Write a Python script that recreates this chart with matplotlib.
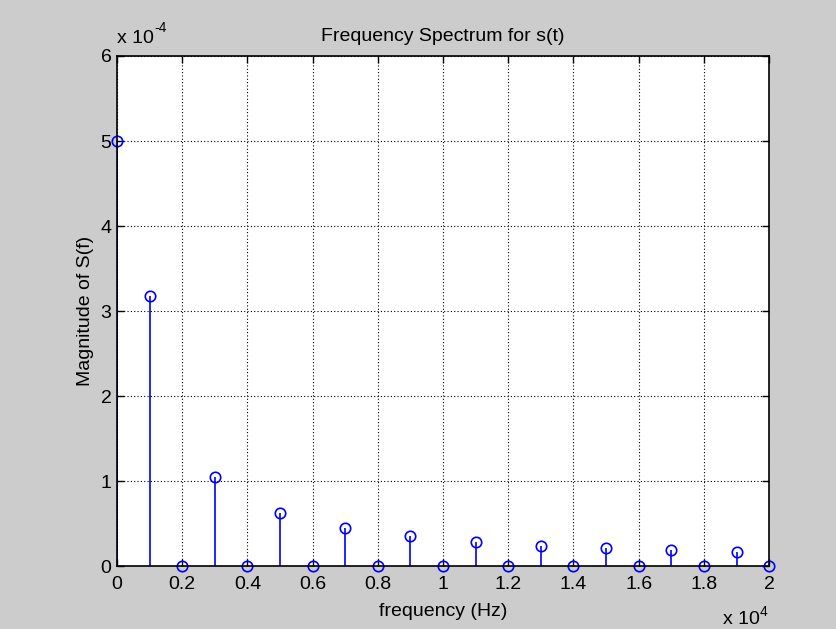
import numpy as np
import matplotlib
matplotlib.use("Agg")
import matplotlib.pyplot as plt
from matplotlib.ticker import FuncFormatter, MultipleLocator

# данные спектра (частота в Гц, амплитуда)
freq = [0, 1000, 2000, 3000, 4000, 5000, 6000, 7000, 8000, 9000, 10000,
        11000, 12000, 13000, 14000, 15000, 16000, 17000, 18000, 19000, 20000]
mag = [5.0e-4, 3.18e-4, 0, 1.05e-4, 0, 0.63e-4, 0, 0.45e-4, 0, 0.35e-4, 0,
       0.28e-4, 0, 0.24e-4, 0, 0.21e-4, 0, 0.19e-4, 0, 0.17e-4, 0]

GRAY = "#cccccc"
plt.rcParams['font.family'] = ['Liberation Sans', 'DejaVu Sans']

fig = plt.figure(figsize=(8.36, 6.29), dpi=100, facecolor=GRAY)
ax = fig.add_axes([0.140, 0.100, 0.780, 0.811])

markerline, stemlines, baseline = ax.stem(freq, mag, linefmt="b-", markerfmt="bo", basefmt="b-")
markerline.set_markerfacecolor("none")
markerline.set_markeredgewidth(1.2)
markerline.set_markersize(7.5)
markerline.set_clip_on(False)
stemlines.set_linewidth(1.2)
baseline.set_visible(False)

ax.set_xlim(0, 20000)
ax.set_ylim(0, 6e-4)
ax.xaxis.set_major_locator(MultipleLocator(2000))
ax.yaxis.set_major_locator(MultipleLocator(1e-4))
ax.xaxis.set_major_formatter(FuncFormatter(lambda v, p: f"{v / 1e4:g}"))
ax.yaxis.set_major_formatter(FuncFormatter(lambda v, p: f"{v / 1e-4:g}"))

ax.grid(True, color="black", linestyle=(0, (1, 2)), linewidth=0.8)
ax.set_axisbelow(True)
ax.tick_params(direction="in", top=True, right=True, length=5, width=1,
               labelsize=14)
ax.tick_params(axis="x", pad=7)
ax.tick_params(axis="y", pad=4)
for s in ax.spines.values():
    s.set_linewidth(1.2)

ax.set_title("Frequency Spectrum for s(t)", fontsize=14, pad=11)
ax.set_xlabel("frequency (Hz)", fontsize=14, labelpad=7)
ax.set_ylabel("Magnitude of S(f)", fontsize=14, labelpad=4.5)

# множители осей как в MATLAB (показатель с дефисом)
ax.annotate("x 10", (0.0, 1.0), xycoords="axes fraction", xytext=(0, 9),
            textcoords="offset points", fontsize=14, ha="left", va="baseline")
ax.annotate("-4", (0.0, 1.0), xycoords="axes fraction", xytext=(27, 17),
            textcoords="offset points", fontsize=10, ha="left", va="baseline")
ax.annotate("x 10", (1.0, 0.0), xycoords="axes fraction", xytext=(-7, -42),
            textcoords="offset points", fontsize=14, ha="right", va="baseline")
ax.annotate("4", (1.0, 0.0), xycoords="axes fraction", xytext=(-7, -36),
            textcoords="offset points", fontsize=10, ha="left", va="baseline")

fig.savefig("out.png", dpi=100, facecolor=GRAY)
